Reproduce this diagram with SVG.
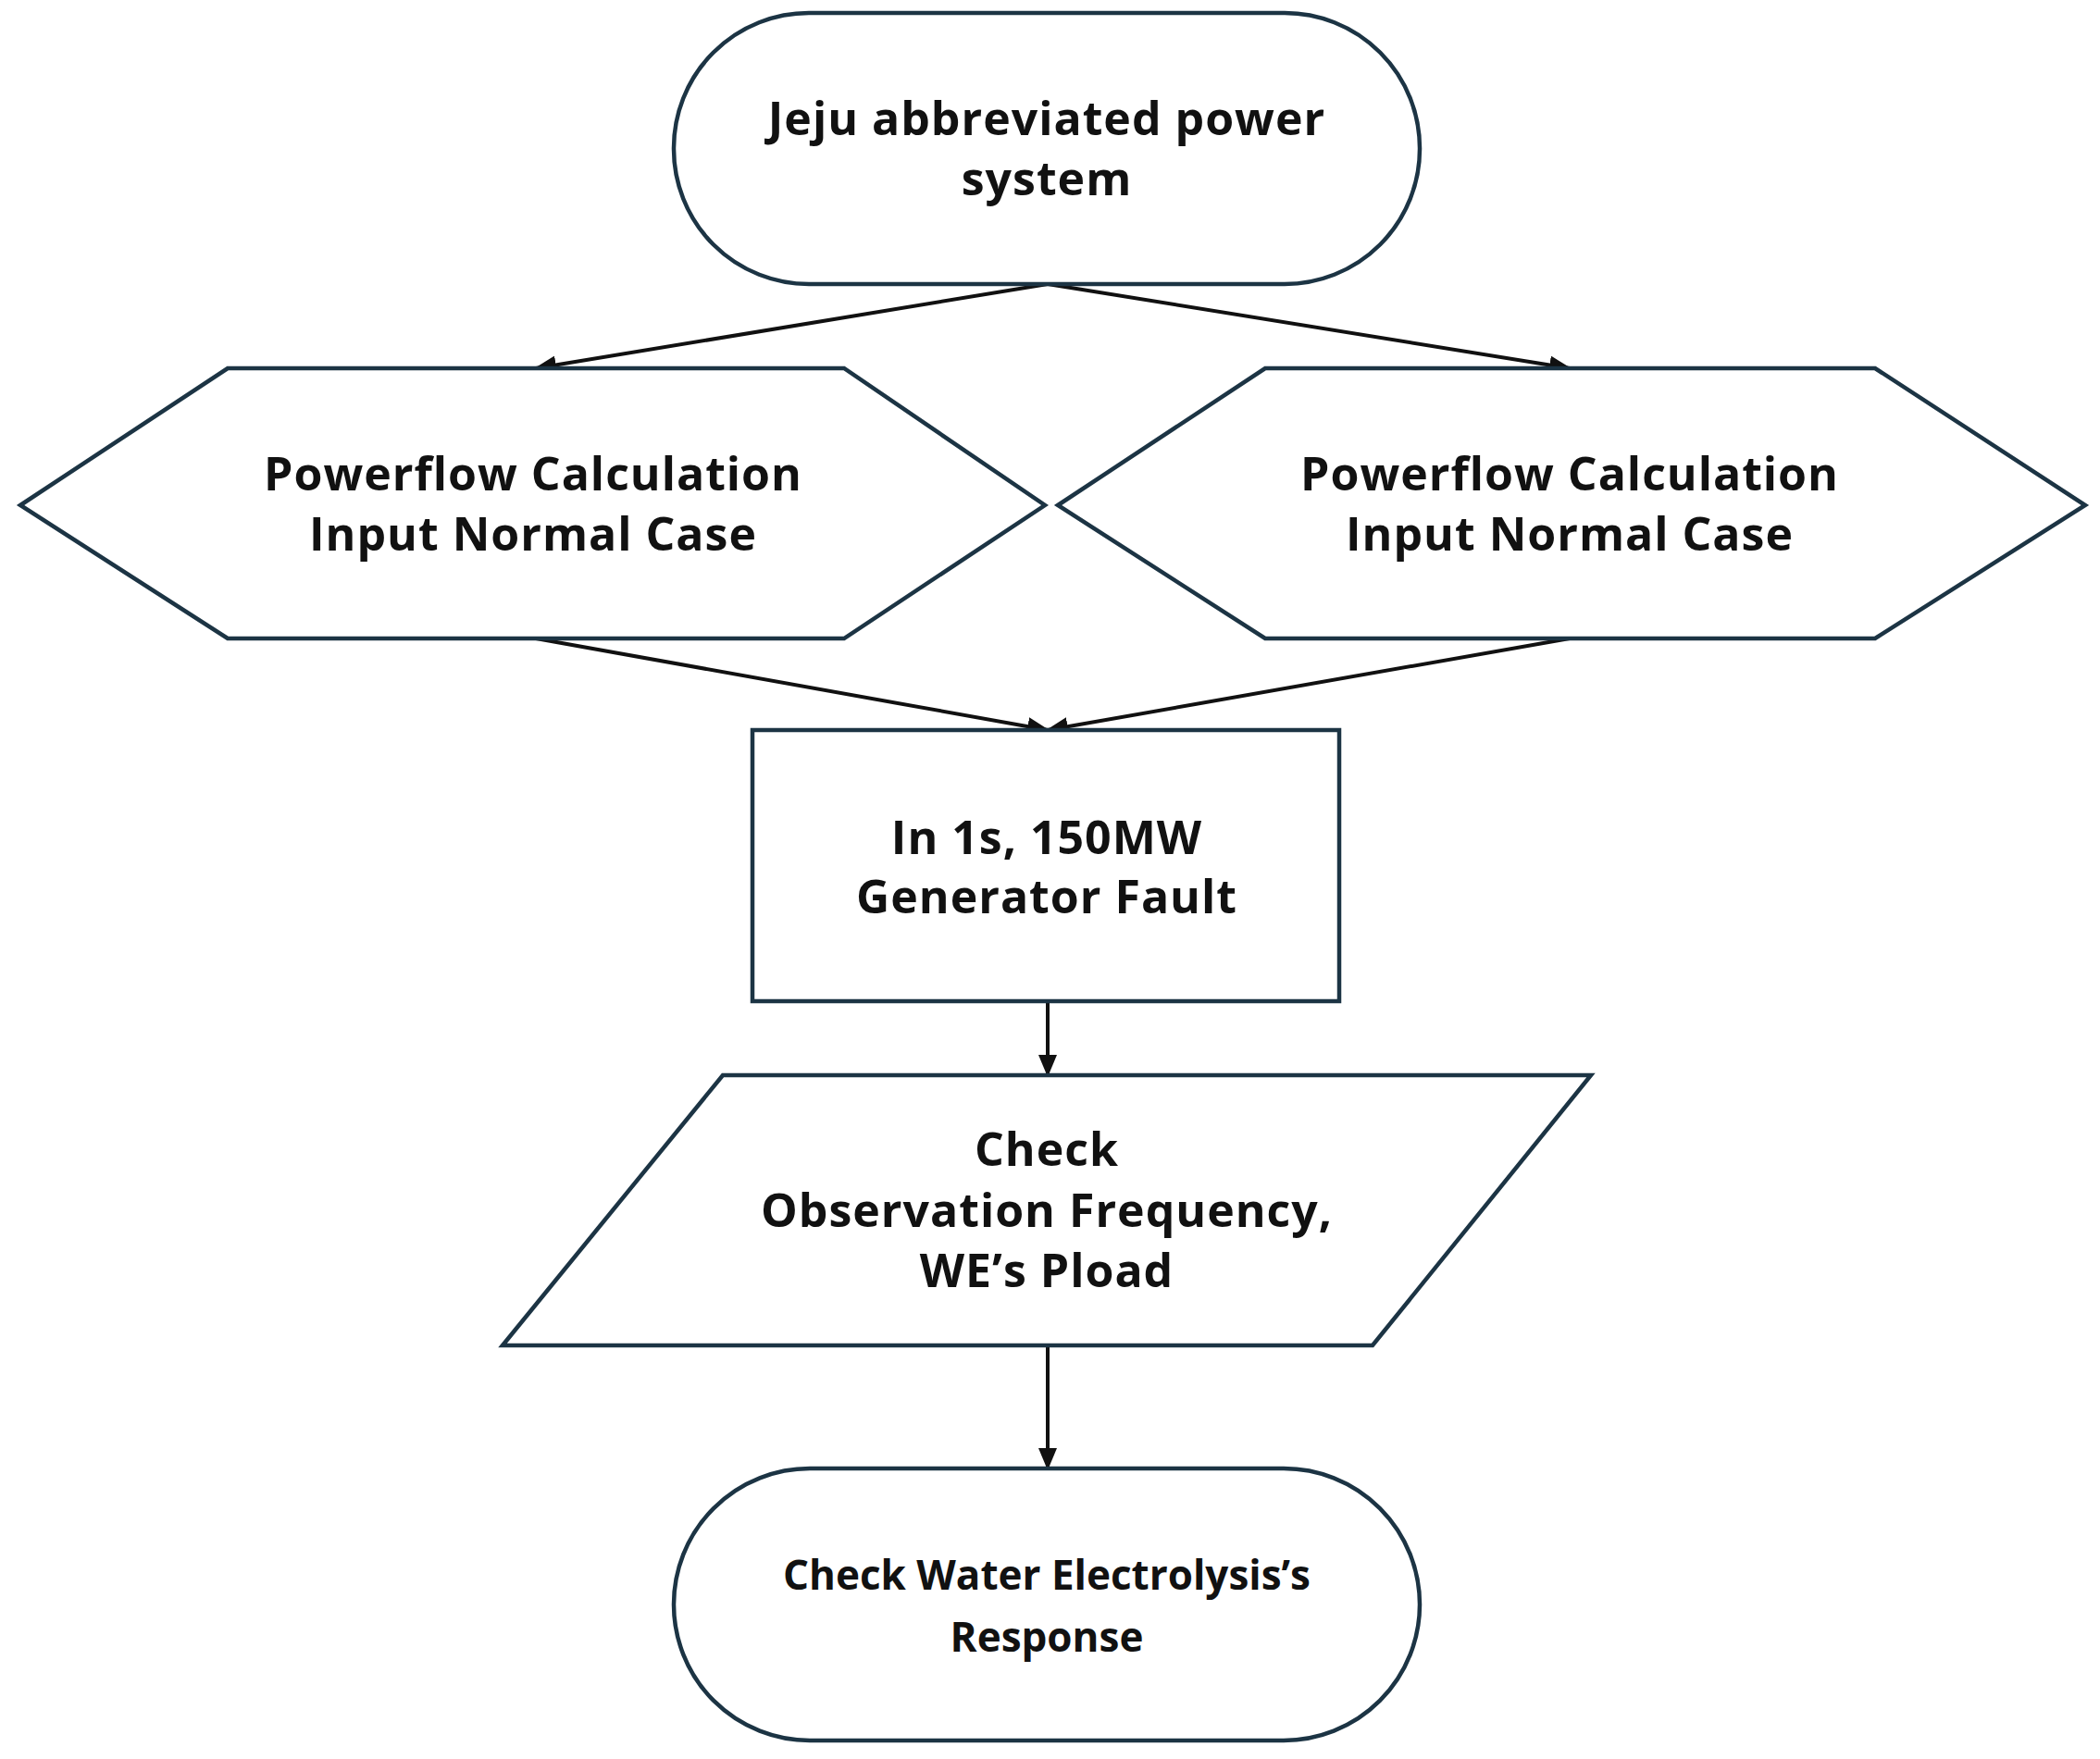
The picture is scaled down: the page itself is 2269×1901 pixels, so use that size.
<svg xmlns="http://www.w3.org/2000/svg" width="2269" height="1901" viewBox="0 0 2269 1901">
<style>
.s{fill:#fff;stroke:#1c3444;stroke-width:4.5}
.t{font-family:"Open Sans","Liberation Sans",sans-serif;font-weight:bold;font-size:50px;fill:#111;text-anchor:middle;letter-spacing:1px}
.t2{font-family:"Open Sans","Liberation Sans",sans-serif;font-weight:bold;font-size:44px;fill:#111;text-anchor:middle}
.c{stroke:#111;stroke-width:4;fill:none;marker-end:url(#a)}
</style>
<defs><marker id="a" viewBox="0 0 24 20" refX="22" refY="10" markerWidth="24" markerHeight="20" markerUnits="userSpaceOnUse" orient="auto"><path d="M0,0L24,10L0,20z" fill="#111"/></marker></defs>
<rect width="2269" height="1901" fill="#fff"/>
<g id="connectors">
<path class="c" d="M1132,307L579,398"/>
<path class="c" d="M1132,307L1696,398"/>
<path class="c" d="M579,690L1132,789"/>
<path class="c" d="M1696,690L1132,789"/>
<path class="c" d="M1132,1082L1132,1162"/>
<path class="c" d="M1132,1454L1132,1587"/>
</g>
<g id="start"><rect class="s" x="728" y="14" width="806" height="293" rx="146"/>
<text class="t" x="1131" y="146">Jeju abbreviated power</text><text class="t" x="1131" y="211">system</text></g>
<g id="hexL"><polygon class="s" points="22,546 246,398 912,398 1129,546 912,690 246,690"/>
<text class="t" x="576" y="530">Powerflow Calculation</text><text class="t" x="576" y="595">Input Normal Case</text></g>
<g id="hexR"><polygon class="s" points="1143,546 1367,398 2026,398 2253,546 2026,690 1367,690"/>
<text class="t" x="1696" y="530">Powerflow Calculation</text><text class="t" x="1696" y="595">Input Normal Case</text></g>
<g id="fault"><rect class="s" x="813" y="789" width="634" height="293"/>
<text class="t" x="1131" y="923">In 1s, 150MW</text><text class="t" x="1131" y="987">Generator Fault</text></g>
<g id="check"><polygon class="s" points="543,1454 781,1162 1719,1162 1483,1454"/>
<text class="t" x="1131" y="1260">Check</text><text class="t" x="1131" y="1326">Observation Frequency,</text><text class="t" x="1131" y="1391">WE’s Pload</text></g>
<g id="end"><rect class="s" x="728" y="1587" width="806" height="294" rx="147"/>
<text class="t2" x="1131" y="1718">Check Water Electrolysis’s</text><text class="t2" x="1131" y="1785">Response</text></g>
</svg>
